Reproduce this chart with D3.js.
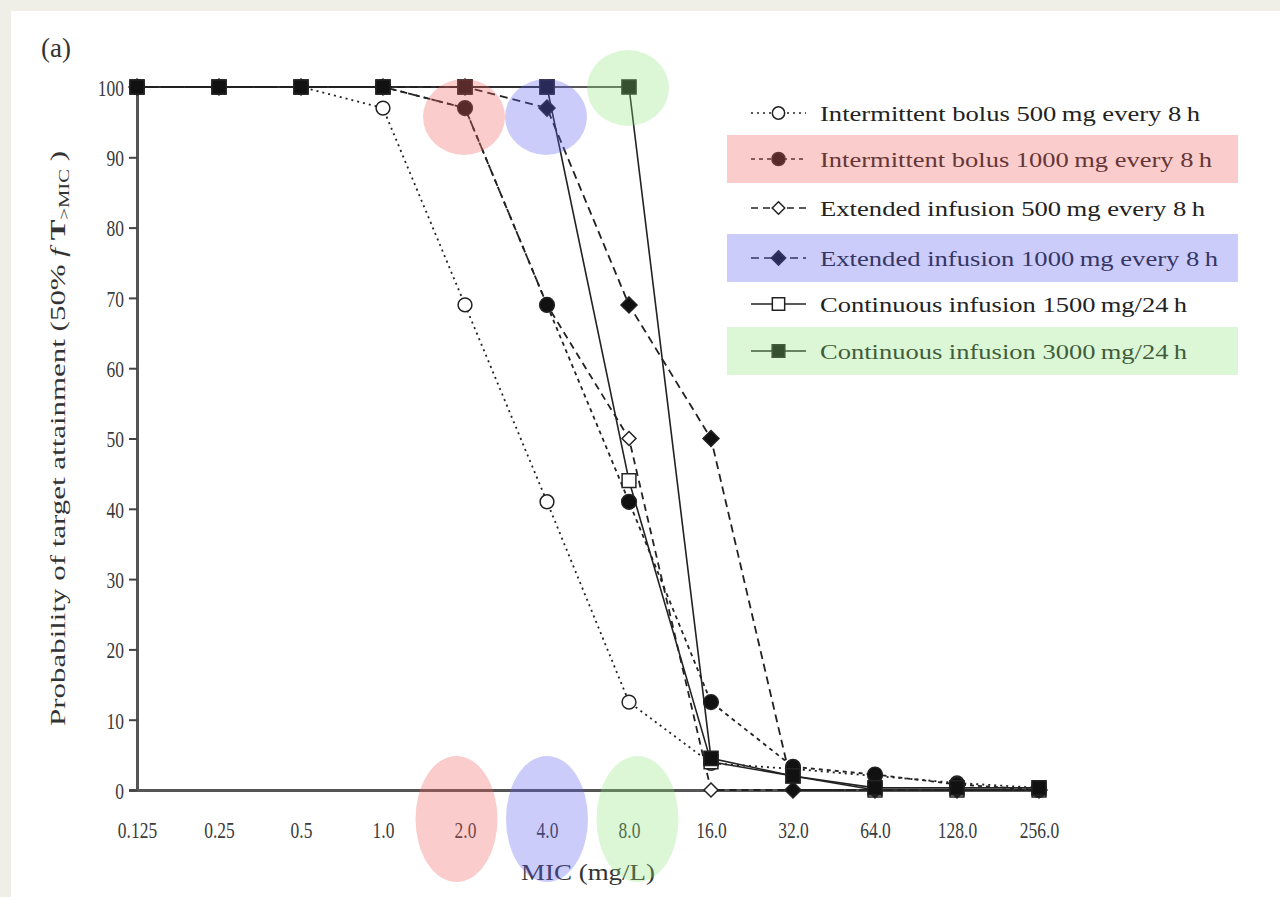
<!DOCTYPE html>
<html>
<head>
<meta charset="utf-8">
<script src="https://cdn.jsdelivr.net/npm/d3@7"></script>
<style>
  body { margin: 0; background: #efefe7; }
  svg { display: block; }
</style>
</head>
<body>
<div id="chart"></div>
<script>
// MIC categories on the x axis
const micLabels = ["0.125", "0.25", "0.5", "1.0", "2.0", "4.0", "8.0", "16.0", "32.0", "64.0", "128.0", "256.0"];
const yTicks = [0, 10, 20, 30, 40, 50, 60, 70, 80, 90, 100];

// probability of target attainment (%) per regimen
const bolus500 = [100, 100, 100, 97, 69, 41, 12.5, 3.8, 3, 2, 1, 0.3];
const bolus1000 = [100, 100, 100, 100, 97, 69, 41, 12.5, 3.3, 2.2, 0.8, 0];
const extended500 = [100, 100, 100, 100, 97, 69, 50, 0, 0, 0, 0, 0];
const extended1000 = [100, 100, 100, 100, 100, 97, 69, 50, 0, 0, 0, 0];
const continuous1500 = [100, 100, 100, 100, 100, 100, 44, 4, 2, 0, 0, 0];
const continuous3000 = [100, 100, 100, 100, 100, 100, 100, 4.5, 2, 0.3, 0.3, 0.3];

const seriesNames = [
  "Intermittent bolus 500\u2009mg every 8\u2009h",
  "Intermittent bolus 1000\u2009mg every 8\u2009h",
  "Extended infusion 500\u2009mg every 8\u2009h",
  "Extended infusion 1000\u2009mg every 8\u2009h",
  "Continuous infusion 1500\u2009mg/24\u2009h",
  "Continuous infusion 3000\u2009mg/24\u2009h"
];

// diamond drawn as a square turned 45 degrees
const symbolRhomb = {
  draw(context, size) {
    const r = Math.sqrt(size / 2);
    context.moveTo(0, -r);
    context.lineTo(r, 0);
    context.lineTo(0, r);
    context.lineTo(-r, 0);
    context.closePath();
  }
};

const series = [
  { name: seriesNames[0], values: bolus500, symbol: d3.symbolCircle, size: 150, open: true, dash: "2,4", textW: 380 },
  { name: seriesNames[1], values: bolus1000, symbol: d3.symbolCircle, size: 170, open: false, dash: "4,4", textW: 392 },
  { name: seriesNames[2], values: extended500, symbol: symbolRhomb, size: 98, open: true, dash: "7,5", textW: 385 },
  { name: seriesNames[3], values: extended1000, symbol: symbolRhomb, size: 128, open: false, dash: "8,5", textW: 398 },
  { name: seriesNames[4], values: continuous1500, symbol: d3.symbolSquare, size: 190, open: true, dash: null, textW: 367 },
  { name: seriesNames[5], values: continuous3000, symbol: d3.symbolSquare, size: 200, open: false, dash: null, textW: 367 }
];

// highlight tint behind rows 2, 4 and 6 of the legend and the MIC breakpoints
const tints = ["rgba(238,96,96,0.32)", "rgba(96,96,238,0.32)", "rgba(140,230,120,0.30)"];
const highlightMics = ["2.0", "4.0", "8.0"];

const W = 1280, H = 897;
const margin = { top: 87, right: 242, bottom: 107, left: 137 };
const serif = "'Liberation Serif', 'Times New Roman', serif";

const svg = d3.select("#chart").append("svg")
  .attr("width", W)
  .attr("height", H)
  .style("font-family", serif);

svg.append("rect")
  .attr("x", 11).attr("y", 11)
  .attr("width", W - 11).attr("height", H - 11)
  .attr("fill", "#ffffff");

const x = d3.scalePoint()
  .domain(micLabels)
  .range([margin.left, W - margin.right + 1]);

const y = d3.scaleLinear()
  .domain([0, 100])
  .range([H - margin.bottom, margin.top]);

// y axis
const yAxis = svg.append("g")
  .attr("transform", `translate(${margin.left},0)`)
  .call(d3.axisLeft(y).tickValues(yTicks).tickSize(8).tickPadding(0));
yAxis.select(".domain").attr("stroke", "#555").attr("stroke-width", 3);
yAxis.selectAll(".tick line").attr("stroke", "#444").attr("stroke-width", 2);
yAxis.selectAll(".tick text")
  .attr("x", 0)
  .attr("transform", "translate(-13,1) scale(0.76,1)")
  .attr("fill", "#3a3a3a")
  .style("font-size", "23px")
  .style("font-family", serif);

// x axis
const xAxis = svg.append("g")
  .attr("transform", `translate(0,${y(0)})`)
  .call(d3.axisBottom(x).tickSize(0).tickPadding(0));
xAxis.select(".domain").attr("stroke", "#555").attr("stroke-width", 3);
xAxis.selectAll(".tick text")
  .attr("y", 0)
  .attr("dy", 0)
  .attr("transform", "translate(0,48) scale(0.76,1)")
  .attr("fill", "#3a3a3a")
  .style("font-size", "23px")
  .style("font-family", serif);

// axis titles
svg.append("text")
  .attr("transform", `translate(65,${(y(0) + y(100)) / 2}) rotate(-90)`)
  .attr("text-anchor", "middle")
  .attr("fill", "#333")
  .attr("textLength", 575)
  .attr("lengthAdjust", "spacingAndGlyphs")
  .style("font-size", "21px")
  .text("Probability of target attainment (50% ")
  .call(t => {
    t.append("tspan").attr("font-style", "italic").text("f ");
    t.append("tspan").attr("font-weight", "bold").text("T");
    t.append("tspan").attr("font-size", "14px").attr("dy", 4).text(">MIC");
    t.append("tspan").attr("dy", -4).text(" )");
  });

svg.append("text")
  .attr("x", 588).attr("y", 880)
  .attr("text-anchor", "middle")
  .attr("fill", "#333")
  .attr("textLength", 134)
  .attr("lengthAdjust", "spacingAndGlyphs")
  .style("font-size", "24px")
  .text("MIC (mg/L)");

svg.append("text")
  .attr("x", 41).attr("y", 57)
  .attr("fill", "#333")
  .style("font-size", "27px")
  .text("(a)");

// lines
const line = d3.line()
  .x((d, i) => x(micLabels[i]))
  .y(d => y(d));

svg.append("g").selectAll("path")
  .data(series)
  .join("path")
  .attr("d", d => line(d.values))
  .attr("fill", "none")
  .attr("stroke", "#222")
  .attr("stroke-width", d => d.dash ? 1.8 : 1.6)
  .attr("stroke-dasharray", d => d.dash);

// markers, open ones first so the filled ones sit on top
[2, 0, 4, 1, 3, 5].forEach(k => {
  const s = series[k];
  svg.append("g").selectAll("path")
    .data(s.values)
    .join("path")
    .attr("transform", (d, i) => `translate(${x(micLabels[i])},${y(d)})`)
    .attr("d", d3.symbol().type(s.symbol).size(s.size))
    .attr("fill", s.open ? "#fff" : "#111")
    .attr("stroke", "#222")
    .attr("stroke-width", 1.5);
});

// legend
const legend = svg.append("g");
const rowY = [113, 159, 208, 258, 304, 351];
const lx = 751, lw = 55, tx = 820;

series.forEach((s, i) => {
  const g = legend.append("g").attr("transform", `translate(0,${rowY[i]})`);
  g.append("line")
    .attr("x1", lx).attr("x2", lx + lw)
    .attr("stroke", "#222")
    .attr("stroke-width", 1.6)
    .attr("stroke-dasharray", s.dash);
  g.append("path")
    .attr("transform", `translate(${lx + lw / 2},0)`)
    .attr("d", d3.symbol().type(s.symbol).size(s.size * 0.8))
    .attr("fill", s.open ? "#fff" : "#111")
    .attr("stroke", "#222")
    .attr("stroke-width", 1.5);
  g.append("text")
    .attr("x", tx).attr("y", 8)
    .attr("fill", "#222")
    .attr("textLength", s.textW)
    .attr("lengthAdjust", "spacingAndGlyphs")
    .style("font-size", "22px")
    .text(s.name);
});

// tint bands over the highlighted legend rows
[1, 3, 5].forEach((row, k) => {
  legend.append("rect")
    .attr("x", 727).attr("y", rowY[row] - 24)
    .attr("width", 511).attr("height", 48)
    .attr("fill", tints[k]);
});

// tint ellipses at the breakpoints, top and bottom
const topCy = [117, 117, 88];
highlightMics.forEach((m, k) => {
  const idx = micLabels.indexOf(m);
  svg.append("ellipse")
    .attr("cx", x(m) - 1)
    .attr("cy", topCy[k])
    .attr("rx", 41).attr("ry", 38)
    .attr("fill", tints[k]);
  svg.append("ellipse")
    .attr("cx", x(m) + (idx - 5) * 8.5)
    .attr("cy", 819)
    .attr("rx", 41).attr("ry", 63)
    .attr("fill", tints[k]);
});
</script>
</body>
</html>
